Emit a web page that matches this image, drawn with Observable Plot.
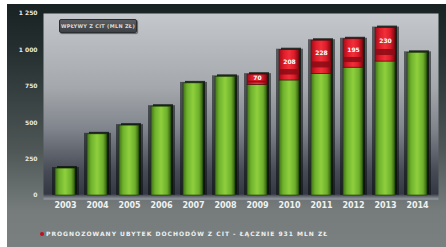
<!DOCTYPE html>
<html><head><meta charset="utf-8">
<script src="https://cdn.jsdelivr.net/npm/d3@7"></script>
<script src="https://cdn.jsdelivr.net/npm/@observablehq/plot@0.6"></script>
<style>
html,body{margin:0;padding:0;background:#fff;}
#wrap{position:absolute;left:7px;top:4px;width:439px;height:243px;background:linear-gradient(#182222 0%,#263030 20%,#4e5656 60%,#767c7c 85%,#7a8080 100%);overflow:hidden;font-family:"DejaVu Sans",sans-serif;}
#chart{position:absolute;left:0;top:0;}
#box{position:absolute;left:52px;top:15px;width:76px;height:12px;background:linear-gradient(#5a5e62,#3e4246);border:1px solid #2a2e30;border-radius:2px;box-shadow:1px 1px 1px rgba(0,0,0,0.5);color:#d8dcdc;font-size:5px;font-weight:bold;line-height:12px;text-align:center;letter-spacing:0.3px;}
#legend{position:absolute;left:33px;top:226px;color:#eef0f0;font-size:6px;font-weight:bold;letter-spacing:1px;white-space:nowrap;line-height:8px;}
#legend .dot{display:inline-block;width:4px;height:4px;border-radius:2px;background:#c01020;margin-right:2px;vertical-align:middle;}
</style></head>
<body>
<div id="wrap"><div id="chart"></div><div id="box"></div><div id="legend"></div></div>
<script>
const years = ["2003","2004","2005","2006","2007","2008","2009","2010","2011","2012","2013","2014"];
const baseValues = [185, 420, 480, 610, 770, 815, 760, 790, 835, 878, 920, 980];
const lossValues = [0, 0, 0, 0, 0, 0, 70, 208, 228, 195, 230, 0];
const yTicks = [0, 250, 500, 750, 1000, 1250];
const boxText = "WPŁYWY Z CIT (MLN ZŁ)";
const legendText = "PROGNOZOWANY UBYTEK DOCHODÓW Z CIT - ŁĄCZNIE 931 MLN ZŁ";

const data = years.map((y, i) => ({year: y, base: baseValues[i], loss: lossValues[i], total: baseValues[i] + lossValues[i]}));
const lossData = data.filter(d => d.loss > 0);

const fmt = d => d3.format(",")(d).replace(/,/g, " ");

const svg = Plot.plot({
  width: 439, height: 213,
  marginLeft: 36, marginRight: 8, marginTop: 9, marginBottom: 22,
  style: {background: "transparent", color: "#e6eaea", fontFamily: "DejaVu Sans", fontWeight: "bold", overflow: "visible"},
  x: {type: "band", domain: years, paddingInner: 0.38, paddingOuter: 0.21, label: null},
  y: {domain: [0, 1250], label: null},
  marks: [
    Plot.frame({fill: "url(#bgGrad)", stroke: null, insetBottom: -4}),
    Plot.axisY({ticks: yTicks, tickFormat: fmt, tickSize: 0, tickPadding: 6, fontSize: 6, fill: "#e6eaea"}),
    Plot.axisX({tickSize: 0, tickPadding: 7, fontSize: 8, fill: "#eef2f2", letterSpacing: 0.6}),
    Plot.barY(data, {x: "year", y1: 0, y2: "total", fill: "#080c10", fillOpacity: 0.55, insetLeft: -3, insetRight: -4, insetTop: -1}),
    Plot.barY(data, {x: "year", y1: 0, y2: "total", fill: "#0a100a", fillOpacity: 0.8, dx: 2, dy: -1, insetTop: -1}),
    Plot.barY(data, {x: "year", y1: 0, y2: "base", fill: "url(#greenGrad)", stroke: "#1e3a0c", strokeWidth: 0.6}),
    Plot.barY(lossData, {x: "year", y1: "base", y2: "total", fill: "url(#redGrad)", stroke: "#5a0a10", strokeWidth: 0.6}),
    Plot.barY(lossData, {x: "year", y1: d => d.base + d.loss * 0.18, y2: d => d.base + d.loss * 0.36, fill: "#8a0a14", fillOpacity: 0.85}),
    Plot.text(lossData, {x: "year", y: d => d.base + d.loss * 0.62, text: d => String(d.loss), fill: "#ffffff", fontSize: 6, fontWeight: "bold"})
  ]
});

const defs = d3.select(svg).insert("defs", ":first-child");
const bg = defs.append("linearGradient").attr("id", "bgGrad").attr("x1", 0).attr("y1", 0).attr("x2", 0).attr("y2", 1);
[[0, "#c4c8cc"], [0.4, "#a4a8ac"], [0.62, "#80848c"], [0.85, "#464a54"], [0.97, "#343842"], [1, "#9aa0a8"]].forEach(([o, c]) => bg.append("stop").attr("offset", o).attr("stop-color", c));
const gg = defs.append("linearGradient").attr("id", "greenGrad").attr("x1", 0).attr("y1", 0).attr("x2", 1).attr("y2", 0);
[[0, "#3e7414"], [0.2, "#6eb02c"], [0.5, "#8ed03c"], [0.8, "#6eb02c"], [1, "#2e5a0e"]].forEach(([o, c]) => gg.append("stop").attr("offset", o).attr("stop-color", c));
const rg = defs.append("linearGradient").attr("id", "redGrad").attr("x1", 0).attr("y1", 0).attr("x2", 1).attr("y2", 0);
[[0, "#a00c18"], [0.25, "#e01c2a"], [0.5, "#f0303a"], [0.75, "#e01c2a"], [1, "#800810"]].forEach(([o, c]) => rg.append("stop").attr("offset", o).attr("stop-color", c));

document.getElementById("chart").appendChild(svg);
document.getElementById("box").textContent = boxText;
document.getElementById("legend").innerHTML = '<span class="dot"></span>' + legendText;
</script>
</body></html>
